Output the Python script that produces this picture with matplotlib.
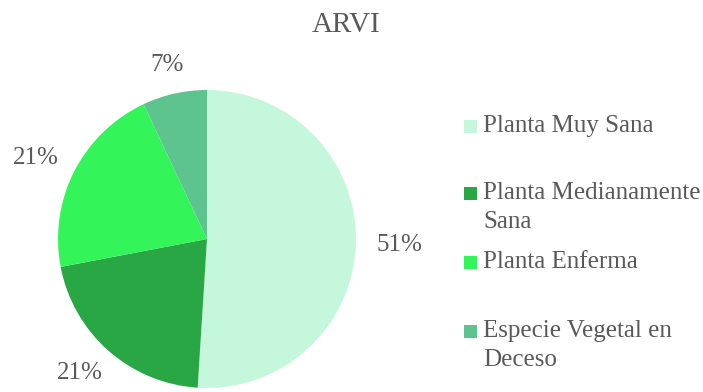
import numpy as np
import matplotlib
matplotlib.use('Agg')
import matplotlib.pyplot as plt
from matplotlib.patches import Rectangle

# data
categories = ['Planta Muy Sana', 'Planta Medianamente\nSana', 'Planta Enferma',
              'Especie Vegetal en\nDeceso']
values = [51, 21, 21, 7]
colors = ['#c5f7dc', '#2aa745', '#33f55a', '#5ec48f']
title = 'ARVI'

W, H = 703, 392
text_color = '#595959'
plt.rcParams['font.family'] = ['Liberation Serif', 'DejaVu Serif']


def label_positions(wedges, radius, center, sizes, gap=20):
    # put each label just outside its wedge, like Excel's "outside end"
    out = []
    for w, (tw, th) in zip(wedges, sizes):
        ang = np.deg2rad((w.theta1 + w.theta2) / 2)
        c, s = np.cos(ang), np.sin(ang)
        x = center[0] + (radius + gap) * c + c * tw / 2
        y = center[1] + (radius + gap) * s + s * th / 2
        out.append((x, y))
    return out


def main():
    fig = plt.figure(figsize=(W / 100, H / 100), dpi=100)
    ax = fig.add_axes([0, 0, 1, 1])

    center = (207, H - 239)
    radius = 149
    wedges, _ = ax.pie(values, colors=colors, startangle=90, counterclock=False,
                       center=center, radius=radius,
                       wedgeprops=dict(linewidth=0))
    ax.set_xlim(0, W)
    ax.set_ylim(0, H)
    ax.set_aspect('auto')
    ax.axis('off')

    pct = ['%d%%' % round(v * 100 / sum(values)) for v in values]
    sizes = [(15.5 * len(p), 18) for p in pct]
    for (x, y), p in zip(label_positions(wedges, radius, center, sizes), pct):
        ax.text(x, y, p, ha='center', va='center', fontsize=18, color=text_color)

    ax.text(346, H - 32, title, ha='center', va='baseline', fontsize=21,
            color=text_color)

    # legend drawn by hand to get Excel's spacing
    baselines = [132, 199, 268, 337]
    for lab, col, b in zip(categories, colors, baselines):
        ax.add_patch(Rectangle((464, H - b + 6 - 6.5), 13, 13, color=col, lw=0))
        for i, line in enumerate(lab.split('\n')):
            ax.text(483, H - b - 29 * i, line, ha='left', va='baseline',
                    fontsize=18, color=text_color)

    fig.savefig('out.png', dpi=100)


if __name__ == "__main__":
    main()
